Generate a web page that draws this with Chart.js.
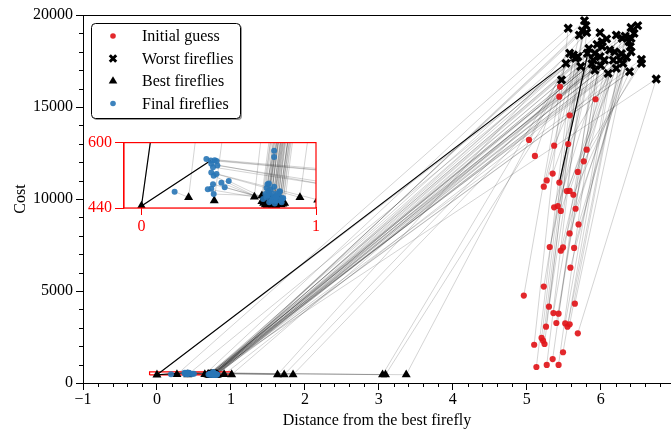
<!DOCTYPE html>
<html>
<head>
<meta charset="utf-8">
<script src="https://cdn.jsdelivr.net/npm/chart.js@4.4.0/dist/chart.umd.min.js"></script>
<style>
    html, body { margin: 0; padding: 0; background: #fff; }
    #wrap { position: relative; width: 671px; height: 432px; overflow: hidden; }
    #main { position: absolute; left: 0; top: 0; }
    #inset { position: absolute; left: 84px; top: 130px; }
</style>
</head>
<body>
<div id="wrap">
    <canvas id="main" width="671" height="432"></canvas>
    <canvas id="inset" width="240" height="110"></canvas>
</div>
<script>
// one entry per firefly: initial guess -> worst -> best -> final
const initX = [4.96, 5.03, 5.10, 5.11, 5.13, 5.20, 5.22, 5.23, 5.23, 5.24, 5.26, 5.27, 5.27, 5.30, 5.31, 5.35, 5.35, 5.36, 5.37, 5.37, 5.40, 5.42, 5.43, 5.43, 5.44, 5.44, 5.45, 5.46, 5.46, 5.49, 5.49, 5.52, 5.54, 5.55, 5.56, 5.58, 5.58, 5.58, 5.58, 5.59, 5.63, 5.64, 5.65, 5.66, 5.69, 5.69, 5.70, 5.77, 5.81, 5.93];
const initY = [4750, 13210, 2080, 12340, 870, 2450, 2300, 10670, 5240, 2120, 3060, 11010, 980, 4150, 7390, 11380, 1300, 3800, 12900, 9550, 3260, 9620, 3770, 980, 10890, 15560, 16100, 9350, 7190, 7370, 1670, 3240, 10430, 3060, 12990, 10440, 8130, 3190, 14550, 6270, 10230, 7340, 4310, 9470, 11470, 2700, 8620, 12050, 12680, 15420];

const worstX = [5.47, 5.53, 5.56, 5.58, 5.63, 5.66, 5.69, 5.71, 5.73, 5.75, 5.78, 5.80, 5.81, 5.82, 5.88, 5.90, 5.92, 5.92, 5.95, 5.99, 5.99, 6.00, 6.02, 6.02, 5.84, 6.05, 6.08, 6.10, 6.12, 6.17, 6.19, 6.21, 6.21, 6.26, 6.28, 6.29, 6.30, 6.33, 6.35, 6.38, 6.39, 6.40, 6.41, 6.41, 6.41, 6.75, 6.50, 6.55, 6.55, 6.45];
const worstY = [16470, 17370, 19280, 17920, 17830, 17650, 17730, 18910, 17200, 19150, 19690, 19420, 19040, 17920, 17350, 17550, 17920, 17010, 18400, 19040, 17730, 17250, 18550, 18280, 18190, 17550, 18700, 16830, 18100, 17550, 18000, 18910, 17100, 17550, 17900, 18730, 17370, 18850, 17700, 18550, 16920, 18280, 18730, 18000, 19320, 16520, 19420, 17590, 17370, 19000];

const bestX = [3.37, 0.70, 0.27, 0.72, 3.05, 0.74, 0.417, 0.76, 3.09, 0.78, 0.647, 0.80, 1.63, 0.71, 0.69, 0.73, 1.72, 0.75, 0.72, 0.77, 1.84, 0.79, 0.75, 0.81, 0, 0.70, 0.77, 0.72, 1.01, 0.74, 0.74, 0.76, 0.908, 0.78, 0.79, 0.80, 0.69, 0.73, 0.75, 0.77, 0.79, 0.81, 0.71, 0.76, 0.78, 0.72, 0.74, 0.76, 0.80, 0.82];
const bestY = [450, 462, 466, 452, 452, 450, 458, 455, 452, 449, 467, 453, 452, 448, 470, 460, 452, 447, 455, 458, 450, 450, 452, 456, 445, 452, 450, 447, 460, 455, 458, 449, 466, 453, 455, 448, 456, 452, 458, 446, 459, 450, 455, 462, 456, 449, 464, 451, 460, 452];

const finalX = [0.372, 0.76, 0.19, 0.76, 0.42, 0.722, 0.40, 0.717, 0.43, 0.726, 0.38, 0.74, 0.40, 0.793, 0.414, 0.774, 0.41, 0.717, 0.414, 0.783, 0.435, 0.812, 0.458, 0.745, 0.397, 0.755, 0.50, 0.732, 0.40, 0.697, 0.477, 0.803, 0.43, 0.764, 0.41, 0.73, 0.79, 0.81, 0.764, 0.71, 0.75, 0.77, 0.79, 0.74, 0.76, 0.73, 0.80, 0.78, 0.72, 0.77];
const finalY = [560, 580, 480, 565, 557, 498, 487, 489, 555, 481, 486, 470, 548, 481, 474, 470, 540, 466, 519, 460, 544, 464, 502, 458, 556, 475, 506, 454, 527, 462, 491, 454, 523, 451, 498, 500, 480, 464, 464, 474, 462, 457, 468, 485, 492, 476, 458, 475, 470, 466];

// highlighted firefly
const pathX = [5.44, 5.84, 5.53, 0, 0.397];
const pathY = [10890, 18190, 17370, 445, 556];

// zoomed window shown in the inset
const zoomX = [-0.1, 1];
const zoomY = [440, 600];

const xTicks = [-1, 0, 1, 2, 3, 4, 5, 6];
const yTicks = [0, 5000, 10000, 15000, 20000];
const insetXTicks = [0, 1];
const insetYTicks = [440, 600];

const legendLabels = ['Initial guess', 'Worst fireflies', 'Best fireflies', 'Final fireflies'];

const SERIF = "'Liberation Serif', 'Times New Roman', serif";
const RED = 'rgba(225, 22, 26, 0.92)';
const BLUE = 'rgba(40, 118, 182, 0.9)';

function pts(xs, ys) {
    return xs.map((x, i) => ({ x: x, y: ys[i] }));
}

function buildDatasets(isInset) {
    const clip = isInset ? 0 : false;
    const ds = [
        { data: pts(initX, initY), pointStyle: 'circle', pointRadius: 3.1, backgroundColor: RED, borderWidth: 0, clip: clip },
        { data: pts(worstX, worstY), pointStyle: 'crossRot', pointRadius: 5, borderColor: '#000', borderWidth: 3.2, clip: clip },
        { data: pts(finalX, finalY), pointStyle: 'circle', pointRadius: 3, backgroundColor: BLUE, borderWidth: 0, clip: clip },
        { data: pts(bestX, bestY), pointStyle: 'triangle', pointRadius: 5.2, backgroundColor: '#000', borderWidth: 0, clip: clip },
        { data: pts(pathX, pathY), showLine: true, pointRadius: 0, borderColor: '#000', borderWidth: 1.2, clip: clip }
    ];
    if (!isInset) {
        const bx = [zoomX[0], zoomX[1], zoomX[1], zoomX[0], zoomX[0]];
        const by = [zoomY[0], zoomY[0], zoomY[1], zoomY[1], zoomY[0]];
        ds.push({ data: pts(bx, by), showLine: true, pointRadius: 0, borderColor: 'red', borderWidth: 1.2, clip: clip });
    }
    for (let i = 0; i < initX.length; i++) {
        ds.push({
            data: pts([initX[i], worstX[i], bestX[i], finalX[i]], [initY[i], worstY[i], bestY[i], finalY[i]]),
            showLine: true, pointRadius: 0, borderColor: 'rgba(0,0,0,0.22)', borderWidth: 0.8, clip: clip
        });
    }
    return ds;
}

// top spine and minor ticks of the main axes
const mainFrame = {
    id: 'mainFrame',
    afterDraw(chart) {
        const { ctx, chartArea: a, scales: { x, y } } = chart;
        ctx.save();
        ctx.strokeStyle = '#000';
        ctx.lineWidth = 1;
        ctx.beginPath();
        ctx.moveTo(a.left, a.top + 0.5);
        ctx.lineTo(a.right, a.top + 0.5);
        for (let k = -5; k <= 34; k++) {
            if (k % 5 === 0) continue;
            const px = Math.round(x.getPixelForValue(k * 0.2)) + 0.5;
            ctx.moveTo(px, a.bottom);
            ctx.lineTo(px, a.bottom + 4);
        }
        for (let k = 0; k <= 20; k++) {
            if (k % 5 === 0) continue;
            const py = Math.round(y.getPixelForValue(k * 1000)) + 0.5;
            ctx.moveTo(a.left, py);
            ctx.lineTo(a.left - 4, py);
        }
        ctx.stroke();
        ctx.restore();
    }
};

// legend box in the upper left
const legendBox = {
    id: 'legendBox',
    afterDraw(chart) {
        const ctx = chart.ctx;
        const bx = 91, by = 23, bw = 149, bh = 95;
        ctx.save();
        ctx.fillStyle = 'rgba(0,0,0,0.4)';
        ctx.beginPath();
        ctx.roundRect(bx + 2, by + 2, bw, bh, 4);
        ctx.fill();
        ctx.fillStyle = '#fff';
        ctx.strokeStyle = '#000';
        ctx.lineWidth = 1;
        ctx.beginPath();
        ctx.roundRect(bx + 0.5, by + 0.5, bw, bh, 4);
        ctx.fill();
        ctx.stroke();

        const rows = [36, 58.5, 81, 103.5];
        const mx = 113;
        // initial guess
        ctx.fillStyle = RED;
        ctx.beginPath(); ctx.arc(mx, rows[0], 2.8, 0, Math.PI * 2); ctx.fill();
        // worst
        ctx.strokeStyle = '#000'; ctx.lineWidth = 3;
        ctx.beginPath();
        ctx.moveTo(mx - 3.2, rows[1] - 3.2); ctx.lineTo(mx + 3.2, rows[1] + 3.2);
        ctx.moveTo(mx + 3.2, rows[1] - 3.2); ctx.lineTo(mx - 3.2, rows[1] + 3.2);
        ctx.stroke();
        // best
        ctx.fillStyle = '#000';
        ctx.beginPath();
        ctx.moveTo(mx, rows[2] - 4.8); ctx.lineTo(mx + 4.3, rows[2] + 2.5); ctx.lineTo(mx - 4.3, rows[2] + 2.5);
        ctx.closePath(); ctx.fill();
        // final
        ctx.fillStyle = BLUE;
        ctx.beginPath(); ctx.arc(mx, rows[3], 2.8, 0, Math.PI * 2); ctx.fill();

        ctx.fillStyle = '#000';
        ctx.font = '16px ' + SERIF;
        ctx.textBaseline = 'middle';
        legendLabels.forEach((t, i) => ctx.fillText(t, 142, rows[i] + 1));
        ctx.restore();
    }
};

// white background and red box for the inset
const insetFrame = {
    id: 'insetFrame',
    beforeDatasetsDraw(chart) {
        const { ctx, chartArea: a } = chart;
        ctx.save();
        ctx.fillStyle = '#fff';
        ctx.fillRect(a.left, a.top, a.right - a.left, a.bottom - a.top);
        ctx.restore();
    },
    afterDraw(chart) {
        const { ctx, chartArea: a } = chart;
        ctx.save();
        ctx.strokeStyle = 'red';
        ctx.lineWidth = 1.2;
        ctx.strokeRect(a.left, a.top, a.right - a.left, a.bottom - a.top);
        ctx.restore();
    }
};

const mainChart = new Chart(document.getElementById('main'), {
    type: 'scatter',
    data: { datasets: buildDatasets(false) },
    options: {
        responsive: false,
        animation: false,
        events: [],
        layout: { autoPadding: false, padding: { top: 15, right: 0, left: 0, bottom: 0 } },
        plugins: { legend: { display: false }, tooltip: { enabled: false } },
        scales: {
            x: {
                type: 'linear', min: -1, max: 6.95,
                afterBuildTicks: s => { s.ticks = xTicks.map(v => ({ value: v })); },
                afterFit: s => { s.height = 49; s.paddingLeft = 0; s.paddingRight = 0; },
                grid: { drawOnChartArea: false, tickLength: 7, color: '#000' },
                border: { color: '#000', width: 1 },
                ticks: {
                    color: '#000', padding: 0, maxRotation: 0,
                    font: { family: SERIF, size: 16 },
                    callback: v => String(v).replace('-', '\u2212')
                },
                title: {
                    display: true, text: 'Distance from the best firefly', color: '#000',
                    font: { family: SERIF, size: 16 }, padding: { top: 0, bottom: 2 }
                }
            },
            y: {
                type: 'linear', min: 0, max: 20000,
                afterBuildTicks: s => { s.ticks = yTicks.map(v => ({ value: v })); },
                afterFit: s => { s.width = 83; },
                grid: { drawOnChartArea: false, tickLength: 7, color: '#000' },
                border: { color: '#000', width: 1 },
                ticks: {
                    color: '#000', padding: 3, font: { family: SERIF, size: 16 },
                    callback: v => String(v)
                },
                title: {
                    display: true, text: 'Cost', color: '#000',
                    font: { family: SERIF, size: 16 }, padding: { top: 11, bottom: 0 }
                }
            }
        }
    },
    plugins: [mainFrame, legendBox]
});

const insetChart = new Chart(document.getElementById('inset'), {
    type: 'scatter',
    data: { datasets: buildDatasets(true) },
    options: {
        responsive: false,
        animation: false,
        events: [],
        layout: { autoPadding: false, padding: { top: 8, right: 8, left: 0, bottom: 0 } },
        plugins: { legend: { display: false }, tooltip: { enabled: false } },
        scales: {
            x: {
                type: 'linear', min: zoomX[0], max: zoomX[1],
                afterBuildTicks: s => { s.ticks = insetXTicks.map(v => ({ value: v })); },
                afterFit: s => { s.height = 32; },
                grid: { drawOnChartArea: false, tickLength: 7, color: 'red' },
                border: { color: 'red', width: 1.2 },
                ticks: { color: 'red', padding: 2, maxRotation: 0, font: { family: SERIF, size: 16 } }
            },
            y: {
                type: 'linear', min: zoomY[0], max: zoomY[1],
                afterBuildTicks: s => { s.ticks = insetYTicks.map(v => ({ value: v })); },
                afterFit: s => { s.width = 40; },
                grid: { drawOnChartArea: false, tickLength: 9, color: 'red' },
                border: { color: 'red', width: 1.2 },
                ticks: { color: 'red', padding: 3, font: { family: SERIF, size: 16 } }
            }
        }
    },
    plugins: [insetFrame]
});
</script>
</body>
</html>
